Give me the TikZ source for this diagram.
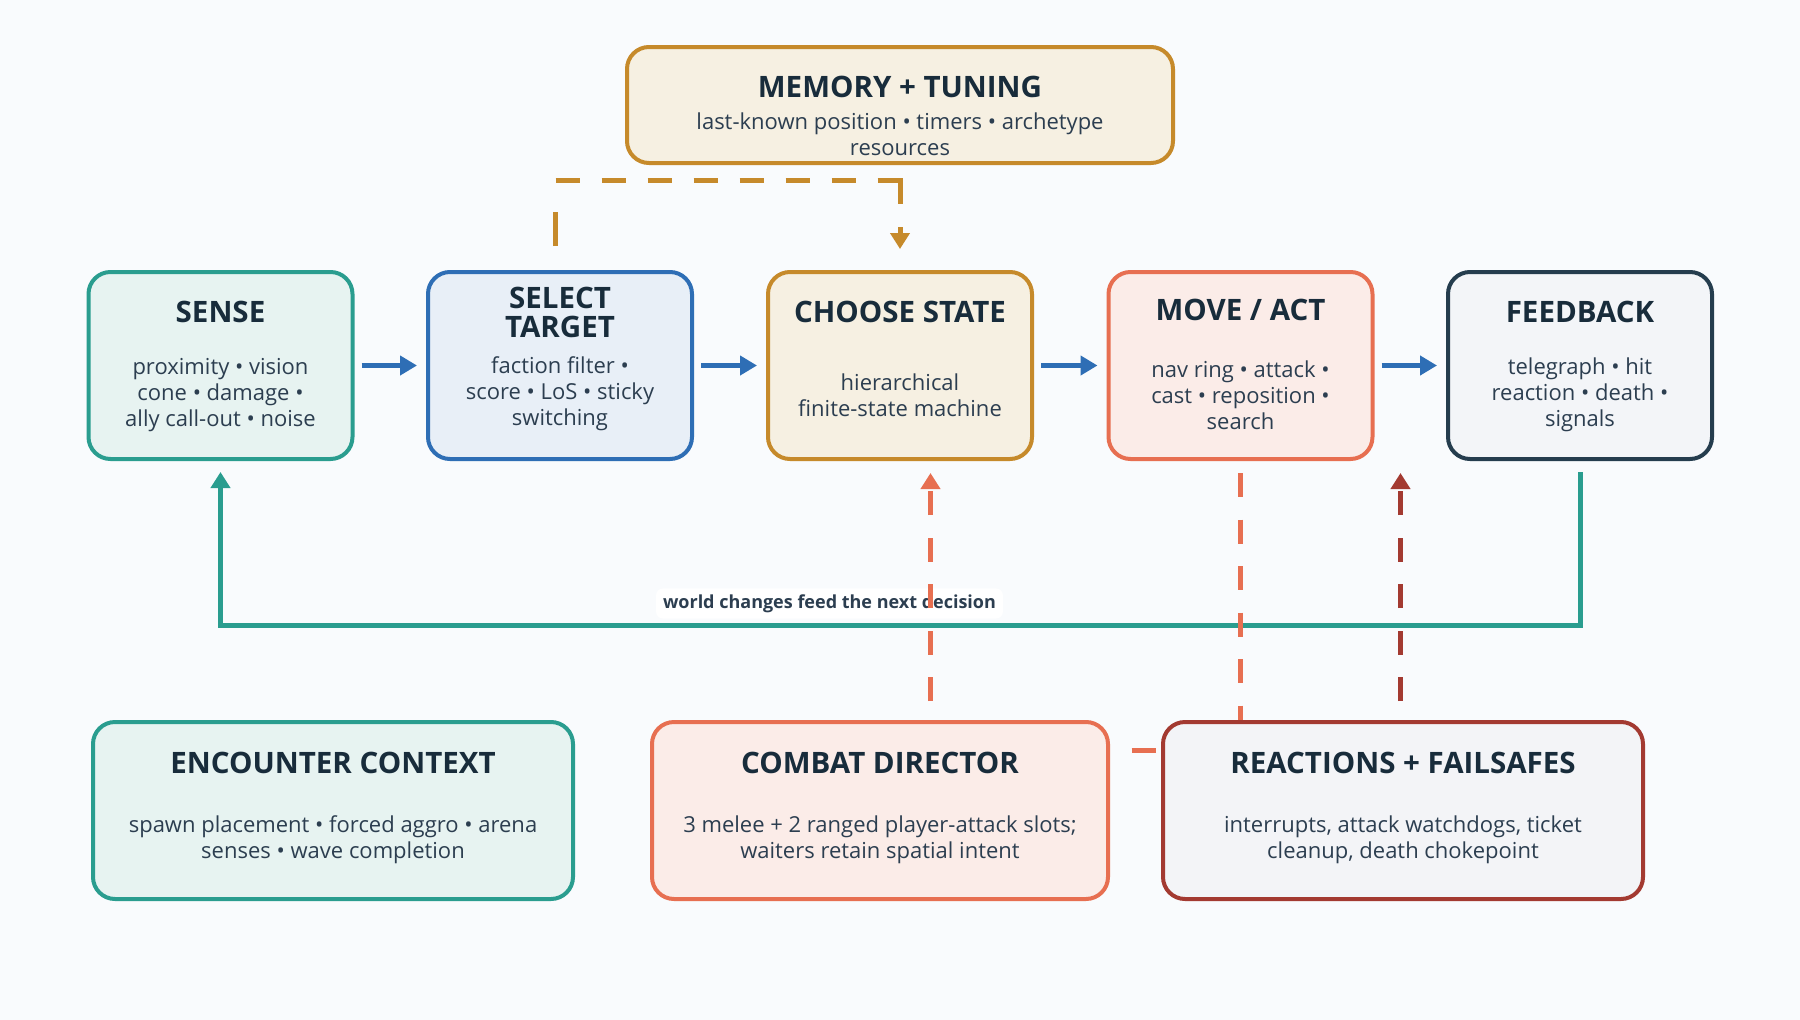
\documentclass[tikz,border=0pt]{standalone}
\usepackage{fontspec}
\setmainfont{Open Sans}
\usetikzlibrary{arrows.meta,calc}
\pgfdeclarelayer{back}
\pgfdeclarelayer{bg}
\pgfsetlayers{back,bg,main}
\definecolor{pagebg}{HTML}{F9FBFD}
\definecolor{tealc}{HTML}{2A9D8F}
\definecolor{tealf}{HTML}{E7F3F1}
\definecolor{bluec}{HTML}{2E6EB5}
\definecolor{bluef}{HTML}{E8EFF7}
\definecolor{goldc}{HTML}{C68A2B}
\definecolor{goldf}{HTML}{F6F0E2}
\definecolor{salc}{HTML}{E76F51}
\definecolor{salf}{HTML}{FBECE8}
\definecolor{navyc}{HTML}{253D4E}
\definecolor{navyf}{HTML}{F3F5F8}
\definecolor{redc}{HTML}{A33A31}
\definecolor{redf}{HTML}{F3F4F7}
\definecolor{titc}{HTML}{182C3B}
\definecolor{bodc}{HTML}{2C3E50}
\begin{document}
\begin{tikzpicture}[x=1pt,y=-1pt,
  box/.style={draw, line width=4pt, rounded corners=22pt, inner sep=0pt},
  rowbox/.style={box, minimum width=264pt, minimum height=187pt},
  botbox/.style={box, minimum height=177pt},
  ttl/.style={font=\fontsize{29.5}{29}\selectfont\bfseries, text=titc, align=center, inner sep=0pt},
  bod/.style={font=\fontsize{22}{26}\selectfont, text=bodc, align=center, inner sep=0pt},
  flow/.style={draw=bluec, line width=5pt, -{Triangle[length=17pt,width=19pt]}, shorten <=7pt, shorten >=9pt},
  dsh/.style={line width=5pt, dash pattern=on 24pt off 22.5pt},
  tipped/.style={-{Triangle[length=16pt,width=19pt]}},
  lbl/.style={fill=white, rounded corners=7pt, inner xsep=7pt, inner ysep=6pt, text=bodc,
    font=\fontsize{18}{20}\selectfont\bfseries}]
\begin{pgfonlayer}{back}
\useasboundingbox[fill=pagebg] (0,0) rectangle (1800,1020);
\end{pgfonlayer}

% top
\node[box, draw=goldc, fill=goldf, minimum width=546pt, minimum height=116pt] (memory) at (900,105) {};
\node[ttl] (memory-t) at (900,87) {MEMORY + TUNING};
\node[bod] (memory-b) at (900,134) {last-known position • timers • archetype\\resources};

% main row
\node[rowbox, draw=tealc, fill=tealf] (sense) at (220.5,365.5) {};
\node[rowbox, draw=bluec, fill=bluef] (select) at (560,365.5) {};
\node[rowbox, draw=goldc, fill=goldf] (choose) at (900,365.5) {};
\node[rowbox, draw=salc, fill=salf] (move) at (1240.5,365.5) {};
\node[rowbox, draw=navyc, fill=navyf] (feedback) at (1580,365.5) {};

\node[ttl] (sense-t) at ($(sense.north)+(0,41.5)$) {SENSE};
\node[ttl] (select-t) at ($(select.north)+(0,42)$) {SELECT\\TARGET};
\node[ttl] (choose-t) at ($(choose.north)+(0,41.5)$) {CHOOSE STATE};
\node[ttl] (move-t) at ($(move.north)+(0,39.5)$) {MOVE / ACT};
\node[ttl] (feedback-t) at ($(feedback.north)+(0,41.5)$) {FEEDBACK};

\node[bod] (sense-b) at ($(sense.center)+(0,30)$) {proximity • vision\\cone • damage •\\ally call-out • noise};
\node[bod] (select-b) at ($(select.center)+(0,28.5)$) {faction filter •\\score • LoS • sticky\\switching};
\node[bod] (choose-b) at ($(choose.center)+(0,29.5)$) {hierarchical\\finite-state machine};
\node[bod] (move-b) at ($(move.center)+(0,29.5)$) {nav ring • attack •\\cast • reposition •\\search};
\node[bod] (feedback-b) at ($(feedback.center)+(0,29)$) {telegraph • hit\\reaction • death •\\signals};

% bottom row
\node[botbox, draw=tealc, fill=tealf, minimum width=480pt] (encounter) at (333,810.5) {};
\node[botbox, draw=salc, fill=salf, minimum width=456pt] (combat) at (880,810.5) {};
\node[botbox, draw=redc, fill=redf, minimum width=480pt] (reactions) at (1403,810.5) {};

\node[ttl] (encounter-t) at ($(encounter.center)+(0,-48)$) {ENCOUNTER CONTEXT};
\node[ttl] (combat-t) at ($(combat.center)+(0,-48)$) {COMBAT DIRECTOR};
\node[ttl] (reactions-t) at ($(reactions.center)+(0,-48)$) {REACTIONS + FAILSAFES};

\node[bod] (encounter-b) at ($(encounter.center)+(0,29)$) {spawn placement • forced aggro • arena\\senses • wave completion};
\node[bod] (combat-b) at ($(combat.center)+(0,29)$) {3 melee + 2 ranged player-attack slots;\\waiters retain spatial intent};
\node[bod] (reactions-b) at ($(reactions.center)+(0,29)$) {interrupts, attack watchdogs, ticket\\cleanup, death chokepoint};

\begin{pgfonlayer}{bg}
  % main flow
  \draw[flow] (sense) -- (select);
  \draw[flow] (select) -- (choose);
  \draw[flow] (choose) -- (move);
  \draw[flow] (move) -- (feedback);

  % memory feed
  \coordinate (mstart) at (555.5,246);
  \coordinate (mlevel) at (0,180.5);
  \draw[draw=goldc, line width=5pt, tipped,
    dash pattern={on 34pt off 31.5pt on 24pt off 22pt on 24pt off 22pt on 24pt off 22pt on 24pt off 22pt on 24pt off 22pt on 24pt off 22pt on 24pt off 22pt on 46pt off 23pt on 60pt off 200pt},
    shorten >=21pt]
    (mstart) -- (mstart |- mlevel) -| (choose.north);

  % feedback loop
  \coordinate (loopy) at (0,625.5);
  \draw[draw=tealc, line width=5pt, tipped, shorten >=11pt]
    ($(feedback.south)+(0,11)$) -- (feedback.south |- loopy) -| (sense.south);
  \node[lbl] (worldlbl) at (829.5,603.5) {world changes feed the next decision};

  % director and reactions
  \coordinate (cx) at (930.5,0);
  \draw[dsh, draw=salc, tipped, shorten <=19pt, shorten >=12pt]
    (cx |- combat.north) -- (cx |- choose.south);
  \draw[dsh, draw=salc, dash phase=25pt]
    ($(combat.east)+(0,-60)$) -- ($(reactions.west)+(0,-60)$);
  \draw[dsh, draw=salc, shorten <=12pt]
    (move.south) -- (move.south |- reactions.north);
  \coordinate (rx) at (1400.5,0);
  \draw[dsh, draw=redc, tipped, shorten <=19pt, shorten >=12pt]
    (rx |- reactions.north) -- (rx |- move.south);
\end{pgfonlayer}
\end{tikzpicture}
\end{document}
